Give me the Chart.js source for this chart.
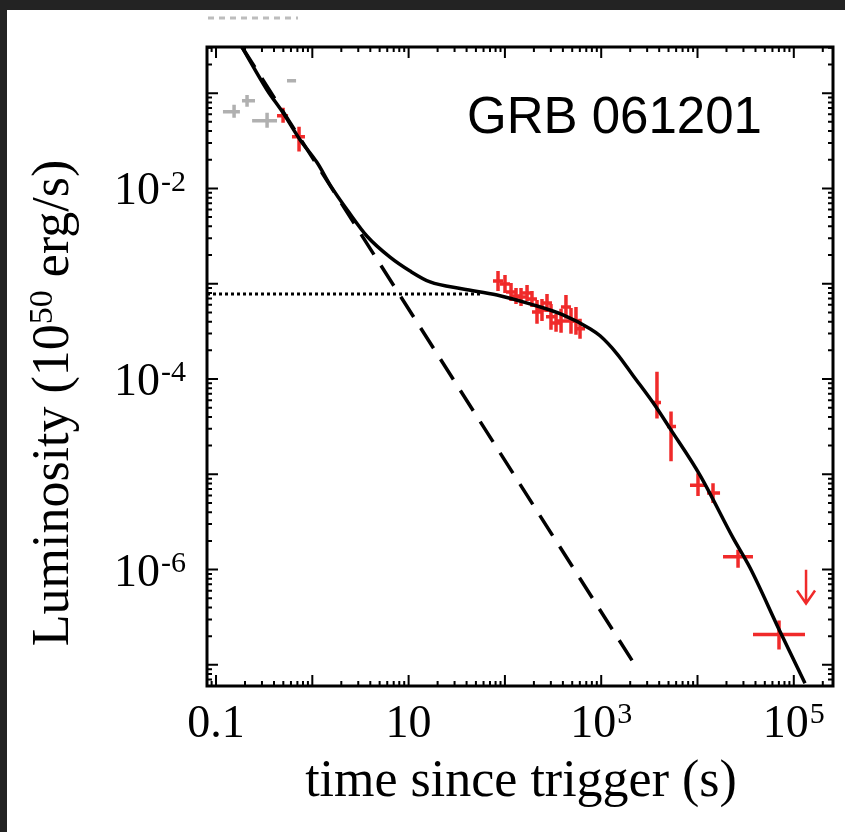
<!DOCTYPE html>
<html>
<head>
<meta charset="utf-8">
<script src="https://cdn.jsdelivr.net/npm/chart.js@4.4.1/dist/chart.umd.min.js"></script>
<style>
  html, body { margin: 0; padding: 0; background: #fff; }
  #wrap { width: 845px; height: 832px; position: relative; }
</style>
</head>
<body>
<div id="wrap"><canvas id="myChart" width="845" height="832"></canvas></div>
<script>
// model light curve (solid)
var modelT = [0.186, 0.339, 0.497, 0.745, 1.12, 1.563, 2.40, 3.70, 6.41, 10.35, 16.7, 36.7, 82.8, 182, 401, 765, 973, 1459, 2138, 3622, 5176, 1.06e4, 2.34e4, 3.51e4, 7.19e4, 1.307e5];
var modelL = [0.305, 0.108, 0.0622, 0.0325, 0.0187, 0.0105, 5.61e-3, 3.15e-3, 1.90e-3, 1.358e-3, 1.043e-3, 8.81e-4, 7.62e-4, 6.14e-4, 4.71e-4, 3.37e-4, 2.84e-4, 1.84e-4, 1.09e-4, 5.27e-5, 3.03e-5, 9.79e-6, 2.15e-6, 1.045e-6, 2.24e-7, 6.41e-8];

// steep decay component (dashed)
var steepT = [0.186, 2089];
var steepL = [0.305, 1.114e-7];

// plateau component (dotted)
var plateauT = [0.0806, 58];
var plateauL = [7.8e-4, 7.8e-4];

// grey points
var greyT   = [0.154, 0.210, 0.339, 0.601];
var greyTLo = [0.118, 0.186, 0.237, 0.546];
var greyTHi = [0.177, 0.254, 0.430, 0.678];
var greyL   = [0.0638, 0.0832, 0.0514, 0.135];
var greyLLo = [0.0552, 0.0719, 0.0434, 0.132];
var greyLHi = [0.0755, 0.0959, 0.0622, 0.138];

// red points
var redT   = [0.497, 0.728, 84.8, 100.2, 115.7, 130.4, 147, 169.8, 191, 215.4, 242.7, 273.6, 301, 339.6, 382.8, 430.5, 485.6, 547, 602.6, 3794, 5309, 1.012e4, 1.449e4, 2.636e4, 7.02e4];
var redTLo = [0.430, 0.615, 75.2, 88.9, 102.7, 115.7, 130.4, 150.7, 169.5, 191.1, 215.4, 242.8, 267.1, 301.3, 339.7, 382, 430.9, 485.4, 534.7, 3451, 4822, 8356, 1.256e4, 1.841e4, 3.77e4];
var redTHi = [0.560, 0.839, 95.6, 112.9, 130.4, 147, 165.7, 191.4, 215.3, 242.8, 273.5, 308.3, 339.2, 382.7, 431.4, 485.2, 547.3, 616.5, 679.1, 4178, 5984, 1.197e4, 1.714e4, 3.767e4, 1.307e5];
var redL   = [0.0579, 0.0349, 1.067e-3, 9.93e-4, 8.18e-4, 7.43e-4, 7.26e-4, 7.99e-4, 6.92e-4, 5.06e-4, 5.31e-4, 6.28e-4, 4.49e-4, 3.88e-4, 4.07e-4, 5.71e-4, 4.07e-4, 4.07e-4, 3.37e-4, 5.66e-5, 3.18e-5, 7.69e-6, 6.35e-6, 1.36e-6, 2.08e-7];
var redLLo = [0.0490, 0.0244, 8.39e-4, 7.99e-4, 6.59e-4, 6.14e-4, 5.85e-4, 6.59e-4, 5.71e-4, 3.79e-4, 4.07e-4, 5.06e-4, 3.28e-4, 3.13e-4, 3.05e-4, 4.28e-4, 2.98e-4, 2.91e-4, 2.64e-4, 3.86e-5, 1.37e-5, 5.90e-6, 4.99e-6, 1.045e-6, 1.45e-7];
var redLHi = [0.0701, 0.0445, 1.358e-3, 1.233e-3, 1.016e-3, 9.01e-4, 9.01e-4, 9.68e-4, 8.39e-4, 6.76e-4, 6.92e-4, 7.80e-4, 6.14e-4, 4.82e-4, 5.45e-4, 7.62e-4, 5.57e-4, 5.71e-4, 4.28e-4, 1.194e-4, 4.56e-5, 1.026e-5, 8.07e-6, 1.61e-6, 2.92e-7];

// upper limit (arrow)
var limitT = [1.34e5];
var limitTop = [9.95e-7];
var limitTip = [4.40e-7];

// tick labels
var xTickVals = [0.1, 10, 1000, 1e5];
var xTickBase = ['0.1', '10', '10', '10'];
var xTickExp  = ['', '', '3', '5'];
var yTickVals = [1e-2, 1e-4, 1e-6];
var yTickBase = ['10', '10', '10'];
var yTickExp  = ['-2', '-4', '-6'];

var grbName = 'GRB 061201';

function pairs(xs, ys) {
    var out = [];
    for (var i = 0; i < xs.length; i++) out.push({x: xs[i], y: ys[i]});
    return out;
}

var SERIF = '"Liberation Serif", "Times New Roman", serif';

// text with a superscript part, anchored by align ('center' or 'right')
function supText(ctx, base, exp, x, y, size, align) {
    var supSize = Math.round(size * 0.66);
    ctx.font = size + 'px ' + SERIF;
    var wb = ctx.measureText(base).width;
    ctx.font = supSize + 'px ' + SERIF;
    var we = exp ? ctx.measureText(exp).width + 1 : 0;
    var total = wb + we;
    var x0 = align == 'right' ? x - total : x - total / 2;
    ctx.textAlign = 'left';
    ctx.textBaseline = 'alphabetic';
    ctx.font = size + 'px ' + SERIF;
    ctx.fillText(base, x0, y);
    if (exp) {
        ctx.font = supSize + 'px ' + SERIF;
        ctx.fillText(exp, x0 + wb + 1, y - size * 0.3);
    }
}

var backgroundPlugin = {
    id: 'background',
    beforeDraw: function(chart) {
        var ctx = chart.ctx;
        ctx.save();
        ctx.fillStyle = '#ffffff';
        ctx.fillRect(0, 0, chart.width, chart.height);
        ctx.fillStyle = '#232323';
        ctx.fillRect(0, 0, chart.width, 10);
        ctx.fillRect(0, 0, 7, chart.height);
        // cropped remnant of the panel above
        ctx.strokeStyle = '#bdbdbd';
        ctx.lineWidth = 3;
        ctx.setLineDash([6, 5]);
        ctx.beginPath();
        ctx.moveTo(208, 18);
        ctx.lineTo(298, 18);
        ctx.stroke();
        ctx.restore();
    }
};

var errorBarPlugin = {
    id: 'errorBars',
    beforeDatasetsDraw: function(chart) {
        var ctx = chart.ctx;
        var xs = chart.scales.x, ys = chart.scales.y;
        function cross(t, tLo, tHi, L, LLo, LHi, color) {
            ctx.strokeStyle = color;
            ctx.lineWidth = 3.5;
            for (var i = 0; i < t.length; i++) {
                var px = xs.getPixelForValue(t[i]);
                var py = ys.getPixelForValue(L[i]);
                ctx.beginPath();
                ctx.moveTo(xs.getPixelForValue(tLo[i]), py);
                ctx.lineTo(xs.getPixelForValue(tHi[i]), py);
                ctx.moveTo(px, ys.getPixelForValue(LLo[i]));
                ctx.lineTo(px, ys.getPixelForValue(LHi[i]));
                ctx.stroke();
            }
        }
        ctx.save();
        cross(greyT, greyTLo, greyTHi, greyL, greyLLo, greyLHi, '#b0b0b0');
        cross(redT, redTLo, redTHi, redL, redLLo, redLHi, '#f02a2a');
        // upper limit arrow
        ctx.strokeStyle = '#f02a2a';
        ctx.lineWidth = 2.5;
        for (var i = 0; i < limitT.length; i++) {
            var ax = xs.getPixelForValue(limitT[i]);
            var top = ys.getPixelForValue(limitTop[i]);
            var tip = ys.getPixelForValue(limitTip[i]);
            ctx.beginPath();
            ctx.moveTo(ax, top);
            ctx.lineTo(ax, tip);
            ctx.moveTo(ax - 9, tip - 13);
            ctx.lineTo(ax, tip);
            ctx.lineTo(ax + 9, tip - 13);
            ctx.stroke();
        }
        ctx.restore();
    }
};

var framePlugin = {
    id: 'frame',
    afterDatasetsDraw: function(chart) {
        var ctx = chart.ctx;
        var a = chart.chartArea;
        var xs = chart.scales.x, ys = chart.scales.y;
        ctx.save();
        ctx.strokeStyle = '#000';
        ctx.lineWidth = 3;
        ctx.strokeRect(a.left, a.top, a.right - a.left, a.bottom - a.top);

        // inward ticks on all four sides
        ctx.lineWidth = 2;
        ctx.beginPath();
        for (var d = -2; d <= 6; d++) {
            for (var m = 1; m <= 9; m++) {
                var v = m * Math.pow(10, d);
                if (v < xs.min || v > xs.max) continue;
                var px = xs.getPixelForValue(v);
                var len = m == 1 ? 11 : 5;
                ctx.moveTo(px, a.bottom); ctx.lineTo(px, a.bottom - len);
                ctx.moveTo(px, a.top); ctx.lineTo(px, a.top + len);
            }
        }
        for (var d2 = -9; d2 <= 0; d2++) {
            for (var m2 = 1; m2 <= 9; m2++) {
                var v2 = m2 * Math.pow(10, d2);
                if (v2 < ys.min || v2 > ys.max) continue;
                var py = ys.getPixelForValue(v2);
                var len2 = m2 == 1 ? 11 : 5;
                ctx.moveTo(a.left, py); ctx.lineTo(a.left + len2, py);
                ctx.moveTo(a.right, py); ctx.lineTo(a.right - len2, py);
            }
        }
        ctx.stroke();

        // tick labels
        ctx.fillStyle = '#000';
        for (var i = 0; i < xTickVals.length; i++) {
            supText(ctx, xTickBase[i], xTickExp[i], xs.getPixelForValue(xTickVals[i]), 737, 46, 'center');
        }
        for (var j = 0; j < yTickVals.length; j++) {
            supText(ctx, yTickBase[j], yTickExp[j], 186, ys.getPixelForValue(yTickVals[j]) + 16, 46, 'right');
        }

        // axis titles
        ctx.font = '52px ' + SERIF;
        ctx.textAlign = 'center';
        ctx.textBaseline = 'alphabetic';
        ctx.fillText('time since trigger (s)', 521, 796);

        ctx.save();
        ctx.translate(68, 403);
        ctx.rotate(-Math.PI / 2);
        var t1 = 'Luminosity (10', t2 = '50', t3 = ' erg/s)';
        ctx.font = '52px ' + SERIF;
        var w1 = ctx.measureText(t1).width, w3 = ctx.measureText(t3).width;
        ctx.font = '34px ' + SERIF;
        var w2 = ctx.measureText(t2).width;
        var x0 = -(w1 + w2 + w3) / 2;
        ctx.textAlign = 'left';
        ctx.font = '52px ' + SERIF;
        ctx.fillText(t1, x0, 0);
        ctx.font = '34px ' + SERIF;
        ctx.fillText(t2, x0 + w1, -16);
        ctx.font = '52px ' + SERIF;
        ctx.fillText(t3, x0 + w1 + w2, 0);
        ctx.restore();

        // burst name
        ctx.font = '51px "Liberation Sans", Arial, sans-serif';
        ctx.textAlign = 'left';
        ctx.fillText(grbName, 467, 133);
        ctx.restore();
    }
};

var ctx = document.getElementById('myChart');
var myChart = new Chart(ctx, {
    type: 'scatter',
    data: {
        datasets: [{
            label: 'model',
            data: pairs(modelT, modelL),
            showLine: true,
            borderColor: '#000',
            borderWidth: 3.5,
            pointRadius: 0,
            cubicInterpolationMode: 'monotone',
            clip: 0
        }, {
            label: 'steep decay',
            data: pairs(steepT, steepL),
            showLine: true,
            borderColor: '#000',
            borderWidth: 3.5,
            borderDash: [24, 13],
            pointRadius: 0,
            clip: 0
        }, {
            label: 'plateau',
            data: pairs(plateauT, plateauL),
            showLine: true,
            borderColor: '#000',
            borderWidth: 3,
            borderDash: [3, 3],
            pointRadius: 0,
            clip: 0
        }]
    },
    options: {
        responsive: false,
        animation: false,
        layout: { padding: { left: 207, top: 47, right: 12, bottom: 146 } },
        plugins: {
            legend: { display: false },
            tooltip: { enabled: false }
        },
        scales: {
            x: { type: 'logarithmic', min: 0.0806, max: 2.553e5, display: false },
            y: { type: 'logarithmic', min: 6.41e-8, max: 0.305, display: false }
        }
    },
    plugins: [backgroundPlugin, errorBarPlugin, framePlugin]
});
</script>
</body>
</html>
